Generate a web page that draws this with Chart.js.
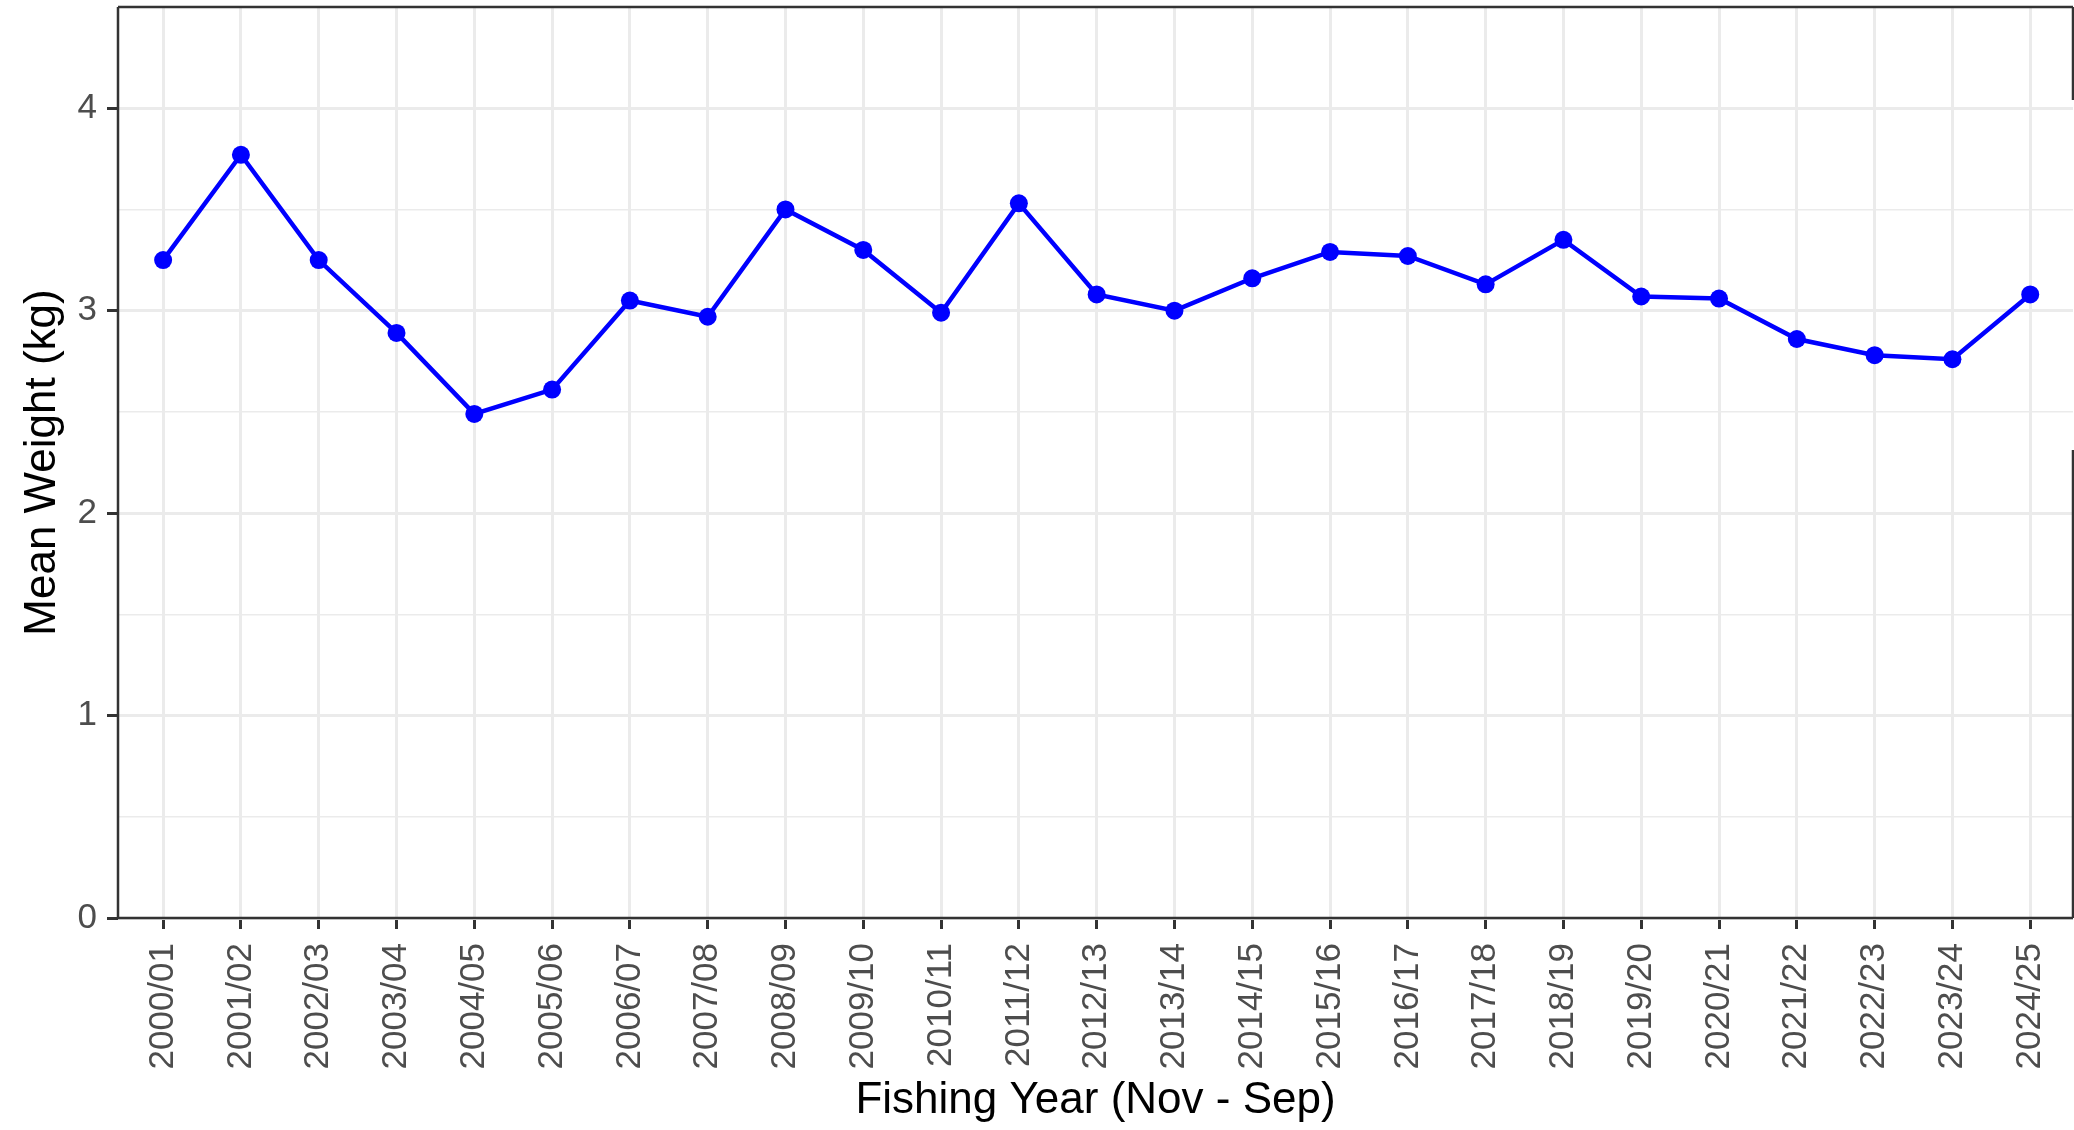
<!DOCTYPE html>
<html>
<head>
<meta charset="utf-8">
<title>Mean Weight by Fishing Year</title>
<script src="https://cdn.jsdelivr.net/npm/chart.js@4"></script>
<style>
  html, body { margin: 0; padding: 0; background: #fff; }
  canvas { display: block; }
</style>
</head>
<body>
<canvas id="chart" width="2074" height="1130"></canvas>
<script>
// Fishing years (Nov - Sep) and mean weight per year, kg
const fishingYears = [
  '2000/01', '2001/02', '2002/03', '2003/04', '2004/05', '2005/06', '2006/07',
  '2007/08', '2008/09', '2009/10', '2010/11', '2011/12', '2012/13', '2013/14',
  '2014/15', '2015/16', '2016/17', '2017/18', '2018/19', '2019/20', '2020/21',
  '2021/22', '2022/23', '2023/24', '2024/25',
];
const meanWeight = [
  3.25, 3.77, 3.25, 2.89, 2.49, 2.61, 3.05,
  2.97, 3.50, 3.30, 2.99, 3.53, 3.08, 3.00,
  3.16, 3.29, 3.27, 3.13, 3.35, 3.07, 3.06,
  2.86, 2.78, 2.76, 3.08,
];
const yTicks = [0, 1, 2, 3, 4];

const FONT = "'Liberation Sans', Arial, sans-serif";
const GRID = '#EBEBEB';
const INK = '#333333';

// panel border drawn on top, like a ggplot panel.border
const panelBorder = {
  id: 'panelBorder',
  afterDraw(chart) {
    const { ctx, chartArea: a } = chart;
    ctx.save();
    ctx.strokeStyle = INK;
    ctx.lineWidth = 2.5;
    ctx.beginPath();
    ctx.moveTo(a.left, a.top);
    ctx.lineTo(a.right, a.top);
    ctx.moveTo(a.left, a.top);
    ctx.lineTo(a.left, a.bottom);
    ctx.lineTo(a.right, a.bottom);
    // right edge has a gap in the middle
    ctx.moveTo(a.right, a.top);
    ctx.lineTo(a.right, 100);
    ctx.moveTo(a.right, 450);
    ctx.lineTo(a.right, a.bottom);
    ctx.stroke();
    ctx.restore();
  },
};

const points = meanWeight.map((v, i) => ({ x: i, y: v }));

new Chart(document.getElementById('chart'), {
  type: 'line',
  data: {
    datasets: [{
      data: points,
      borderColor: '#0000FF',
      backgroundColor: '#0000FF',
      borderWidth: 4.5,
      pointRadius: 9,
      pointBorderWidth: 0,
      pointBackgroundColor: '#0000FF',
      tension: 0,
      clip: false,
    }],
  },
  options: {
    responsive: false,
    animation: false,
    layout: { autoPadding: false, padding: { top: 7, right: 1, left: 0, bottom: 0 } },
    plugins: {
      legend: { display: false },
      tooltip: { enabled: false },
    },
    scales: {
      x: {
        type: 'linear',
        min: -0.58,
        max: fishingYears.length - 1 + 0.55,
        afterBuildTicks: (scale) => {
          scale.ticks = fishingYears.map((_, i) => ({ value: i }));
        },
        afterFit: (scale) => {
          scale.height = 212;
          scale.paddingLeft = 0;
          scale.paddingRight = 0;
        },
        grid: {
          color: GRID,
          lineWidth: 3,
          drawTicks: true,
          tickLength: 11,
          tickColor: INK,
          tickWidth: 3,
        },
        border: { display: false },
        ticks: {
          autoSkip: false,
          minRotation: 90,
          maxRotation: 90,
          padding: 14,
          color: '#4D4D4D',
          font: { family: FONT, size: 35 },
          callback: (v) => fishingYears[v] ?? '',
        },
        title: {
          display: true,
          text: 'Fishing Year (Nov - Sep)',
          color: '#000',
          font: { family: FONT, size: 44, lineHeight: 1.2 },
          padding: { top: 3, bottom: 3 },
        },
      },
      y: {
        min: 0,
        max: 4.5,
        afterBuildTicks: (scale) => {
          const t = [];
          for (let v = 0; v <= 4.5; v += 0.5) t.push({ value: v });
          scale.ticks = t;
        },
        afterFit: (scale) => {
          scale.width = 118;
          scale.paddingTop = 0;
          scale.paddingBottom = 0;
        },
        grid: {
          color: GRID,
          lineWidth: (c) => (yTicks.includes(c.tick.value) ? 3 : 1.6),
          drawTicks: true,
          tickLength: 11,
          tickColor: (c) => (yTicks.includes(c.tick.value) ? INK : 'rgba(0,0,0,0)'),
          tickWidth: 3,
        },
        border: { display: false },
        ticks: {
          padding: 10,
          color: '#4D4D4D',
          font: { family: FONT, size: 35 },
          callback: (v) => (yTicks.includes(v) ? String(v) : ''),
        },
        title: {
          display: true,
          text: 'Mean Weight (kg)',
          color: '#000',
          font: { family: FONT, size: 44, lineHeight: 1.2 },
          padding: { top: 16, bottom: 16 },
        },
      },
    },
  },
  plugins: [panelBorder],
});
</script>
</body>
</html>
